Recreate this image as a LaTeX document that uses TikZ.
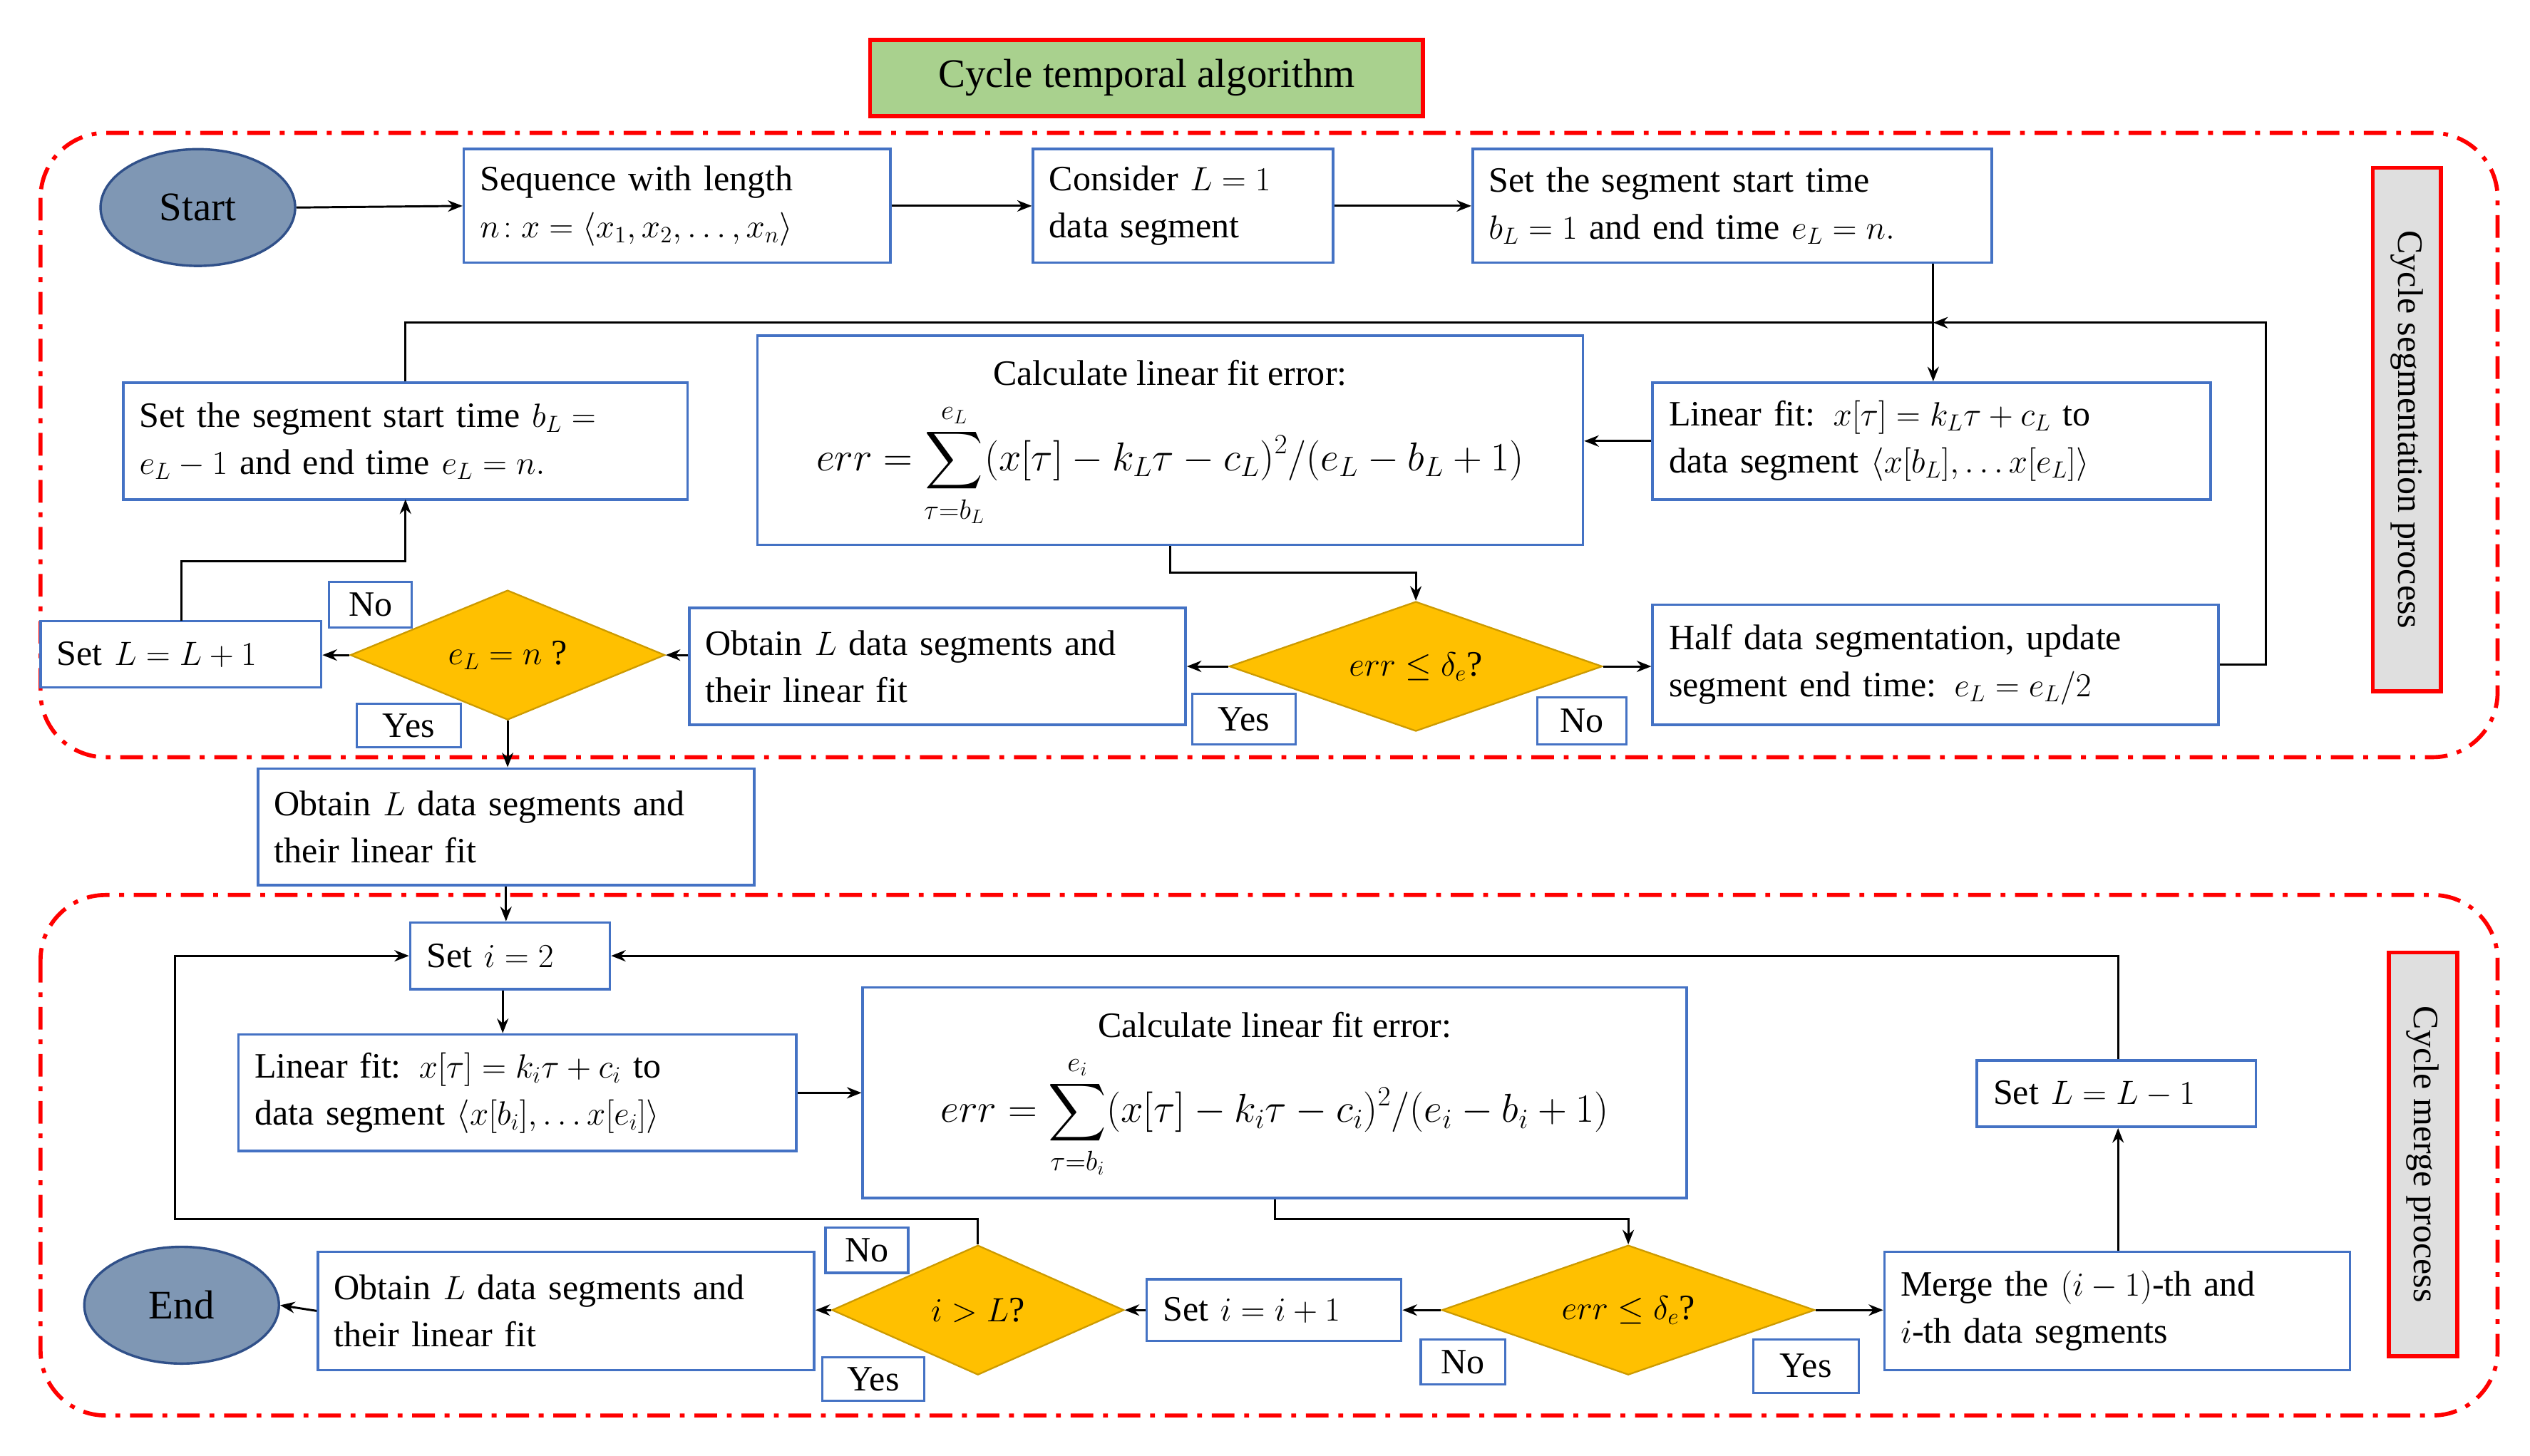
\documentclass[tikz,border=0pt]{standalone}
\usepackage{fontspec}
\usepackage{amsmath}
\setmainfont{Liberation Serif}
\usetikzlibrary{shapes.geometric,arrows.meta}
\definecolor{bb}{HTML}{4472C4}
\definecolor{dia}{HTML}{FFC000}
\definecolor{ell}{HTML}{7F97B4}
\definecolor{ttl}{HTML}{A9D18E}
\tikzset{
  every node/.style={font=\fontsize{22}{29}\selectfont},
  box/.style={draw=bb,line width=1.6pt,fill=white,align=left,inner xsep=10pt,inner ysep=2pt},
  lab/.style={draw=bb,line width=1.4pt,fill=white,inner sep=2pt},
  dia/.style={diamond,aspect=2.8,fill=dia,draw=dia!80!black,line width=1pt,inner sep=1pt},
  ell/.style={ellipse,fill=ell,draw=bb!70!black,line width=1.5pt},
  arr/.style={-{Stealth[length=9pt,width=7pt]},line width=1.3pt},
  ln/.style={line width=1.3pt},
  formula/.style={font=\fontsize{25}{30}\selectfont},
  region/.style={draw=red,line width=2.5pt,dash pattern=on 14pt off 6pt on 3pt off 6pt,rounded corners=40pt},
  side/.style={draw=red,line width=2.5pt,fill=gray!25,rotate=-90,inner sep=2pt}
}
\newcommand{\bx}[6]{\node[box,minimum width={(#4-#2)*1pt},minimum height={(#5-#3)*1pt},text width={(#4-#2-20)*1pt}] (#1) at ({(#2+#4)/2},{(#3+#5)/2}) {#6};}
\newcommand{\lb}[6]{\node[lab,minimum width={(#4-#2)*1pt},minimum height={(#5-#3)*1pt}] (#1) at ({(#2+#4)/2},{(#3+#5)/2}) {#6};}
\begin{document}
\begin{tikzpicture}[x=1pt,y=-1pt]
\useasboundingbox (0,0) rectangle (1560,898);
% regions
\draw[region] (25,82) rectangle (1540,467);
\draw[region] (25,552) rectangle (1540,873);
\node[draw=red,line width=2.5pt,fill=ttl,minimum width=341pt,minimum height=47pt,font=\fontsize{25}{30}\selectfont] (title) at (707,48) {Cycle temporal algorithm};
\node[side,minimum width=323pt,minimum height=42pt] (s1) at (1484,265) {Cycle segmentation process};
\node[side,minimum width=249pt,minimum height=42pt] (s2) at (1494,712) {Cycle merge process};
% upper
\node[ell,minimum width=120pt,minimum height=72pt,font=\fontsize{25}{30}\selectfont] (start) at (122,128) {Start};
\bx{seq}{286}{92}{549}{162}{Sequence with length\\ $n\!: x=\langle x_1,x_2,\dots,x_n\rangle$}
\bx{cons}{637}{92}{822}{162}{Consider $L=1$\\ data segment}
\bx{sst}{908}{92}{1228}{162}{Set the segment start time\\ $b_L=1$ and end time $e_L=n.$}
\bx{lf}{1019}{236}{1363}{308}{Linear fit: $x[\tau]=k_L\tau+c_L$ to\\ data segment $\langle x[b_L],\dots x[e_L]\rangle$}
\node[box,minimum width=509pt,minimum height=129pt] (calc) at (721.5,271.5) {};
\node at (721.5,230) {Calculate linear fit error:};
\node[formula] at (721.5,287) {$\displaystyle err=\sum_{\tau=b_L}^{e_L}(x[\tau]-k_L\tau-c_L)^2/(e_L-b_L+1)$};
\bx{sst2}{76}{236}{424}{308}{Set the segment start time $b_L=$\\ $e_L-1$ and end time $e_L=n.$}
\node[dia,minimum width=230pt,minimum height=80pt] (d1) at (873,411) {$err\le\delta_e$?};
\bx{half}{1019}{373}{1368}{447}{Half data segmentation, update\\ segment end time: $e_L=e_L/2$}
\bx{ob1}{425}{375}{731}{447}{Obtain $L$ data segments and\\ their linear fit}
\node[dia,minimum width=194pt,minimum height=80pt] (d2) at (313,404) {$e_L=n$ ?};
\bx{inc}{25}{383}{198}{424}{Set $L=L+1$}
\lb{no1}{203}{359}{254}{387}{No}
\lb{yes1}{220}{434}{284}{461}{Yes}
\lb{yes2}{735}{428}{799}{459}{Yes}
\lb{no2}{948}{430}{1003}{459}{No}
\bx{ob2}{159}{474}{465}{546}{Obtain $L$ data segments and\\ their linear fit}
% lower
\bx{si}{253}{569}{376}{610}{Set $i=2$}
\bx{lfi}{147}{638}{491}{710}{Linear fit: $x[\tau]=k_i\tau+c_i$ to\\ data segment $\langle x[b_i],\dots x[e_i]\rangle$}
\node[box,minimum width=508pt,minimum height=130pt] (calc2) at (786,674) {};
\node at (786,632) {Calculate linear fit error:};
\node[formula] at (786,689) {$\displaystyle err=\sum_{\tau=b_i}^{e_i}(x[\tau]-k_i\tau-c_i)^2/(e_i-b_i+1)$};
\bx{dec}{1219}{654}{1391}{695}{Set $L=L-1$}
\bx{merge}{1162}{772}{1449}{845}{Merge the $(i-1)$-th and\\ $i$-th data segments}
\node[dia,minimum width=230pt,minimum height=80pt] (d3) at (1004,808) {$err\le\delta_e$?};
\bx{ii}{707}{789}{864}{827}{Set $i=i+1$}
\node[dia,minimum width=180pt,minimum height=80pt] (d4) at (603,808) {$i>L$?};
\bx{ob3}{196}{772}{502}{845}{Obtain $L$ data segments and\\ their linear fit}
\node[ell,minimum width=120pt,minimum height=72pt,font=\fontsize{25}{30}\selectfont] (end) at (112,805) {End};
\lb{no3}{509}{757}{560}{785}{No}
\lb{yes3}{507}{837}{570}{864}{Yes}
\lb{no4}{876}{826}{928}{854}{No}
\lb{yes4}{1081}{826}{1146}{859}{Yes}
% connectors upper
\coordinate (j) at (1192,199);
\draw[arr] (start.east) -- (seq.west);
\draw[arr] (seq.east) -- (cons.west);
\draw[arr] (cons.east) -- (sst.west);
\draw[arr] (sst.south -| j) -- (lf.north -| j);
\draw[arr] (lf.west) -- (calc.east |- lf.west);
\draw[arr] (calc.south) |- (873,353) -- (d1.north);
\draw[arr] (d1.west) -- (ob1.east |- d1.west);
\draw[arr] (d1.east) -- (half.west |- d1.east);
\draw[arr] (half.east) -| (1397,199) -- (j);
\draw[ln] (sst2.north) |- (j);
\draw[arr] (ob1.west |- d2.east) -- (d2.east);
\draw[arr] (d2.west) -- (inc.east |- d2.west);
\draw[arr] (112,383) |- (250,346) -- (250,308);
\draw[arr] (d2.south) -- (ob2.north -| d2.south);
\draw[arr] (ob2.south) -- (si.north -| ob2.south) ;
% lower
\draw[arr] (si.south -| 310,0) -- (lfi.north -| 310,0);
\draw[arr] (lfi.east) -- (calc2.west |- lfi.east);
\draw[arr] (calc2.south) |- (1004,752) -- (d3.north);
\draw[arr] (d3.east) -- (merge.west |- d3.east);
\draw[arr] (d3.west) -- (ii.east |- d3.west);
\draw[arr] (ii.west |- d4.east) -- (d4.east);
\draw[arr] (d4.west) -- (ob3.east |- d4.west);
\draw[arr] (ob3.west) -- (end.east);
\draw[arr] (d4.north) |- (108,752) |- (si.west);
\draw[arr] (merge.north -| 1306,0) -- (dec.south -| 1306,0);
\draw[arr] (dec.north -| 1306,0) |- (si.east);
\end{tikzpicture}
\end{document}
